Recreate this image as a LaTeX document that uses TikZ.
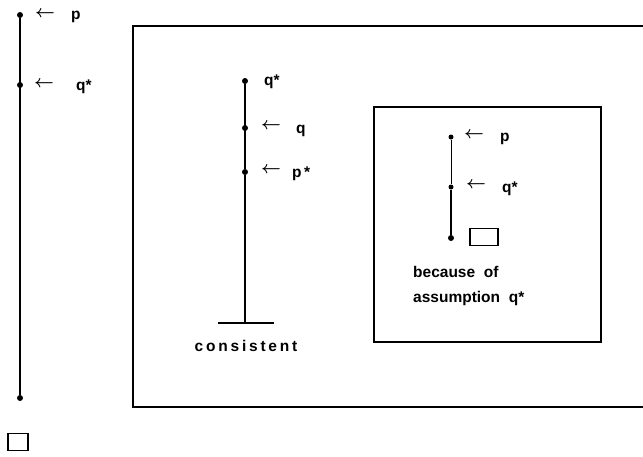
\documentclass[tikz,border=0pt]{standalone}
\usepackage{fontspec}
\setmainfont{Liberation Sans}
\newfontfamily\spacedfont[LetterSpace=18]{Liberation Sans}
\begin{document}
\begin{tikzpicture}[x=1pt,y=-1pt,
  lbl/.style={font=\bfseries\fontsize{15.5}{18}\selectfont, inner sep=0pt, anchor=west},
  arr/.style={font=\fontsize{18}{20}\selectfont\boldmath, inner sep=0pt, anchor=west},
  dot/.style={circle, fill=black, inner sep=0pt, minimum size=6pt},
  thick line/.style={line width=2.2pt},
  thin line/.style={line width=1.4pt},
  frame/.style={line width=1.8pt},
  emptybox/.style={draw, line width=1.8pt, minimum width=20pt, minimum height=17pt, inner sep=0pt}]
\useasboundingbox (0,0) rectangle (643,456);
% frames
\draw[frame] (650,26) -- (133,26) -- (133,407) -- (650,407);
\draw[frame] (374,107) rectangle (601,342);
% left line
\node[dot] (l1) at (20,15) {};
\node[dot] (l2) at (20,85) {};
\node[dot] (l3) at (20,398) {};
\draw[thick line] (l1) -- (l3);
\node[emptybox] (lbox) at (18,442) {};
\node[arr] (la1) at (35,14) {$\leftarrow$};
\node[lbl] (lp) at (71,17) {p};
\node[arr] (la2) at (34,84) {$\leftarrow$};
\node[lbl] (lq) at (76,87) {q*};
% middle line
\node[dot] (m1) at (245,81) {};
\node[dot] (m2) at (245,128) {};
\node[dot] (m3) at (245,172) {};
\coordinate (mb) at (245,323);
\coordinate (mbl) at (218,323);
\coordinate (mbr) at (274,323);
\draw[thin line] (m1) -- (m3);
\draw[thick line] (m3) -- (mb);
\draw[thick line] (mbl) -- (mbr);
\node[lbl] (mq1) at (264,82) {q*};
\node[arr] (ma2) at (261,126) {$\leftarrow$};
\node[lbl] (mq) at (296,131) {q};
\node[arr] (ma3) at (261,170) {$\leftarrow$};
\node[lbl] (mp) at (292,174) {p\,*};
\node[lbl, anchor=center, font=\spacedfont\bfseries\fontsize{15.5}{18}\selectfont] (cons) at (246,346) {consistent};
% inner line
\node[dot, minimum size=5pt] (i1) at (451,137) {};
\node[dot, minimum size=5pt] (i2) at (451,187) {};
\node[dot] (i3) at (451,238) {};
\draw[line width=1pt] (i1) -- (i2);
\draw[thick line] (i2) -- (i3);
\node[arr] (ia1) at (464,135) {$\leftarrow$};
\node[lbl] (ip) at (500,139) {p};
\node[arr] (ia2) at (466,185) {$\leftarrow$};
\node[lbl] (iq) at (502,189) {q*};
\node[emptybox, minimum width=28pt, minimum height=17pt] (ibox) at (484,237) {};
\node[lbl] (t1) at (413,272) {because\ \ of};
\node[lbl] (t2) at (413,298) {assumption\ \ q*};
\end{tikzpicture}
\end{document}
